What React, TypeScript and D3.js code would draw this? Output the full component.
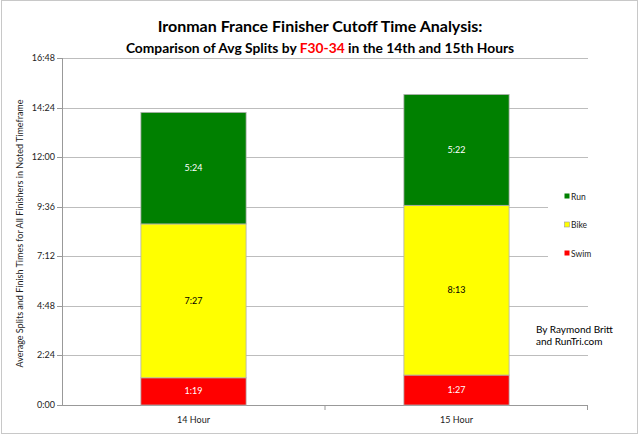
import React from "react";
import * as d3 from "d3";

const categories = ["14 Hour", "15 Hour"];
const seriesNames = ["Swim", "Bike", "Run"];
const swimMin = [79, 87];
const bikeMin = [447, 493];
const runMin = [324, 322];
const tickMinutes = [0, 144, 288, 432, 576, 720, 864, 1008];
const colors = ["#ff0000", "#ffff00", "#008000"];
const labelColors = ["#ffffff", "#000000", "#ffffff"];

const W = 640, H = 436;
const M = { left: 62, right: 588, top: 58, bottom: 405 };
const FONT = "Lato, 'Open Sans', sans-serif";

function fmt(m: number) {
  const h = Math.floor(m / 60);
  const mm = Math.round(m % 60);
  return `${h}:${mm < 10 ? "0" : ""}${mm}`;
}

export default function App() {
  const x = d3.scaleBand<string>().domain(categories).range([M.left, M.right]).padding(0);
  const y = d3.scaleLinear().domain([0, 1008]).range([M.bottom, M.top]);
  const barW = x.bandwidth() * 0.4;
  const table = categories.map((c, i) => ({ cat: c, Swim: swimMin[i], Bike: bikeMin[i], Run: runMin[i] }));
  const stack = d3.stack<any>().keys(seriesNames)(table);

  return (
    <div style={{ position: "absolute", left: 0, top: 0 }}>
      <svg width={W} height={H} style={{ display: "block", background: "#fff" }}>
        <rect x={1.5} y={0.5} width={636} height={433} fill="#fff" stroke="#c8c8c8" />
        <text x={320} y={32} textAnchor="middle" fontFamily={FONT} fontWeight="bold" fontSize={16} fill="#000">
          Ironman France Finisher Cutoff Time Analysis:
        </text>
        <text x={320} y={53} textAnchor="middle" fontFamily={FONT} fontWeight="bold" fontSize={13.8} fill="#000">
          Comparison of Avg Splits by <tspan fill="#ff0000">F30-34</tspan> in the 14th and 15th Hours
        </text>
        {tickMinutes.map((t) => (
          <g key={t}>
            {t > 0 && (
              <line x1={M.left} x2={M.right} y1={Math.round(y(t)) + 0.5} y2={Math.round(y(t)) + 0.5} stroke="#bdbdbd" strokeWidth={1} />
            )}
            <line x1={M.left - 5} x2={M.left} y1={Math.round(y(t)) + 0.5} y2={Math.round(y(t)) + 0.5} stroke="#999" />
            <text x={M.left - 7} y={y(t) + 3} textAnchor="end" fontFamily={FONT} fontSize={9} fill="#222">
              {fmt(t)}
            </text>
          </g>
        ))}
        <line x1={M.left + 0.5} x2={M.left + 0.5} y1={M.top} y2={M.bottom} stroke="#999" />
        <line x1={M.left} x2={M.right} y1={M.bottom + 0.5} y2={M.bottom + 0.5} stroke="#999" />
        <line x1={M.right - 0.5} x2={M.right - 0.5} y1={M.bottom} y2={M.bottom + 5} stroke="#999" />
        <line x1={(M.left + M.right) / 2} x2={(M.left + M.right) / 2} y1={M.bottom} y2={M.bottom + 5} stroke="#999" />
        <text
          transform={`translate(23,${(M.top + M.bottom) / 2 + 2}) rotate(-90)`}
          textAnchor="middle"
          fontFamily={FONT}
          fontSize={9}
          fill="#222"
        >
          Average Splits and Finish Times for All Finishers in Noted Timeframe
        </text>
        {stack.map((s, si) => (
          <g key={s.key}>
            {s.map((d, i) => {
              const cx = (x(categories[i]) as number) + x.bandwidth() / 2;
              const y0 = y(d[0]);
              const y1 = y(d[1]);
              return (
                <g key={i}>
                  <rect x={cx - barW / 2} y={y1} width={barW} height={y0 - y1} fill={colors[si]} stroke="#b0b0b0" strokeWidth={0.8} />
                  <text x={cx} y={(y0 + y1) / 2 + 3} textAnchor="middle" fontFamily={FONT} fontSize={9} fill={labelColors[si]}>
                    {fmt(d[1] - d[0])}
                  </text>
                </g>
              );
            })}
          </g>
        ))}
        {categories.map((c) => (
          <text key={c} x={(x(c) as number) + x.bandwidth() / 2} y={423} textAnchor="middle" fontFamily={FONT} fontSize={9} fill="#222">
            {c}
          </text>
        ))}
        <rect x={548} y={172} width={40} height={112} fill="#fff" />
        {seriesNames.slice().reverse().map((n, i) => {
          const si = seriesNames.length - 1 - i;
          const ly = 197 + i * 28.5;
          return (
            <g key={n}>
              <rect x={564.5} y={ly - 3.5} width={5} height={5} fill={colors[si]} stroke={si === 1 ? "#999" : "none"} strokeWidth={0.6} />
              <text x={571} y={ly + 2.5} fontFamily={FONT} fontSize={8.5} fill="#222">
                {n}
              </text>
            </g>
          );
        })}
        <text x={536} y={333} fontFamily={FONT} fontSize={10} fill="#000">By Raymond Britt</text>
        <text x={536} y={345} fontFamily={FONT} fontSize={10} fill="#000">and RunTri.com</text>
      </svg>
    </div>
  );
}
